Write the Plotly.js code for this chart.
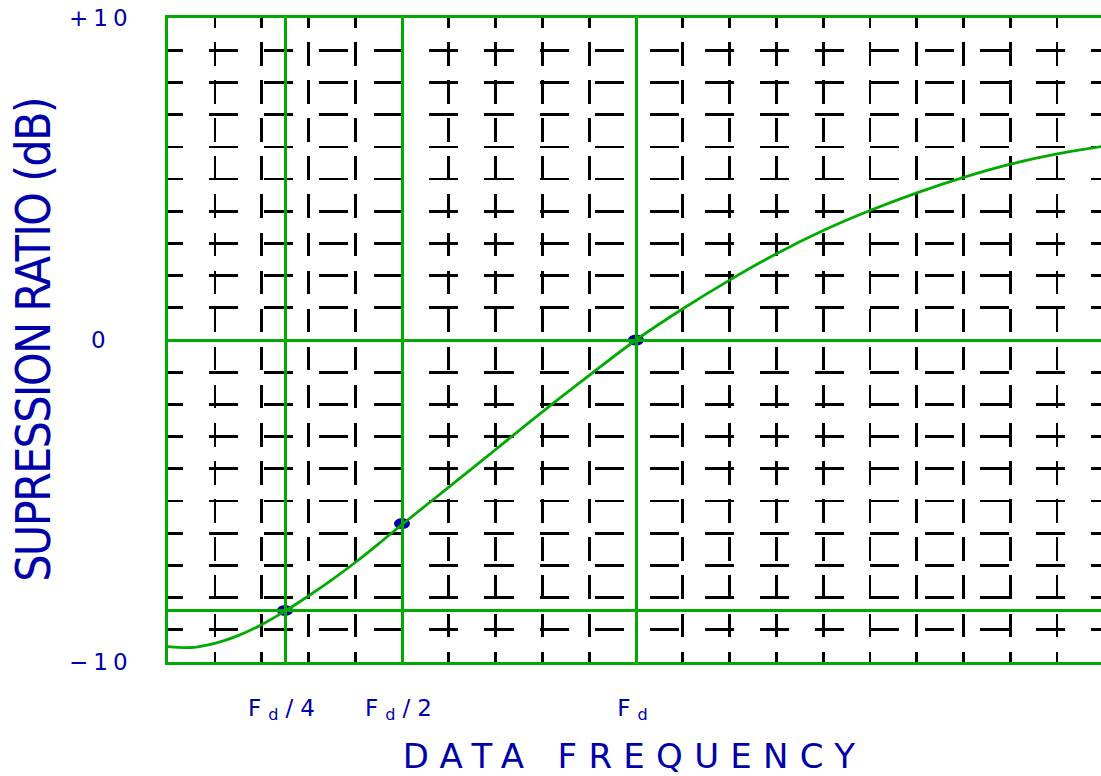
<!DOCTYPE html>
<html>
<head>
<meta charset="utf-8">
<script src="https://cdn.plot.ly/plotly-3.0.1.min.js"></script>
<style>
  html, body { margin: 0; padding: 0; background: #fff; overflow: hidden; }
  #chart { width: 1101px; height: 776px; }
  .xtick text { letter-spacing: 7px; }
  .annotation-text { letter-spacing: 5px; }
  .xtitle { letter-spacing: 11.3px; }
  .ytitle { letter-spacing: -1.8px; }
</style>
</head>
<body>
<div id="chart"></div>
<script>
// Frequency in units of the data frequency Fd, suppression ratio in dB
const freq = [0, 0.05, 0.1, 0.15, 0.2, 0.25, 0.3, 0.35, 0.4, 0.45, 0.5, 0.6, 0.7, 0.8, 0.9,
              1.0, 1.1, 1.2, 1.3, 1.4, 1.5, 1.6, 1.7, 1.8, 1.9, 2.0];
const ratioDb = [-9.52, -9.55, -9.42, -9.18, -8.84, -8.42, -7.95, -7.45, -6.91, -6.33, -5.73,
                 -4.57, -3.4, -2.23, -1.1, 0, 0.97, 1.86, 2.68, 3.4, 4.02, 4.57, 5.05, 5.46, 5.78, 6.02];

// Reference frequencies and their marked levels
const refFreq = [0.25, 0.5, 1.0];
const refDb = [-8.4, -5.7, 0];
const refLabels = ['F<sub>d</sub>/4', 'F<sub>d</sub>/2', 'F<sub>d</sub>'];

// Level labels on the left
const levelVals = [10, 0, -10];
const levelLabels = ['+10', '0', '\u221210'];

const GREEN = '#00AA00';
const BLUE = '#0000AA';

// dash list: a short leading dash and gap, then a repeating dash/gap pair
function dashList(firstDash, firstGap, dash, gap, total) {
  const parts = [firstDash, firstGap];
  let len = firstDash + firstGap;
  while (len < total) { parts.push(dash, gap); len += dash + gap; }
  return parts.map(v => v.toFixed(1) + 'px').join(',');
}
const vDash = dashList(9.5, 14.5, 23.5, 14.6, 700);
const hDash = dashList(15, 26, 29, 26.1, 1000);

const traces = [{
  type: 'scatter',
  mode: 'lines',
  x: freq,
  y: ratioDb,
  line: { color: GREEN, width: 2.8, shape: 'spline', smoothing: 1 },
  hoverinfo: 'skip'
}];

const dots = refFreq.map((f, i) => ({
  type: 'circle', layer: 'below',
  xref: 'x', yref: 'y',
  xsizemode: 'pixel', ysizemode: 'pixel',
  xanchor: f, yanchor: refDb[i],
  x0: -8, x1: 8, y0: -5.5, y1: 5.5,
  fillcolor: BLUE, line: { width: 0 }
}));

const levelNotes = levelVals.map((v, i) => ({
  xref: 'paper', yref: 'y', x: 0, y: v, xshift: -67,
  xanchor: 'center', yanchor: 'middle',
  text: levelLabels[i], showarrow: false,
  font: { family: 'DejaVu Sans', size: 23, color: BLUE }
}));

const layout = {
  width: 1101, height: 776,
  margin: { l: 168, r: 0, t: 18, b: 114 },
  paper_bgcolor: '#ffffff',
  plot_bgcolor: 'rgba(0,0,0,0)',
  showlegend: false,
  xaxis: {
    range: [0, 933 / 468],
    tickmode: 'array', tickvals: refFreq, ticktext: refLabels,
    ticks: '', ticklabelstandoff: 23,
    tickfont: { family: 'DejaVu Sans', size: 23, color: BLUE },
    showgrid: true, gridcolor: GREEN, gridwidth: 3,
    zeroline: false,
    showline: true, mirror: true, linecolor: GREEN, linewidth: 3,
    minor: { dtick: 0.1, tick0: 0, showgrid: true, gridcolor: '#000000', gridwidth: 2.6, griddash: vDash, ticks: '' },
    title: { text: 'DATA FREQUENCY', standoff: 30,
             font: { family: 'DejaVu Sans', size: 34, color: BLUE } }
  },
  yaxis: {
    range: [-10, 10],
    tickmode: 'array', tickvals: [0, refDb[0]],
    showticklabels: false, ticks: '',
    showgrid: true, gridcolor: GREEN, gridwidth: 3,
    zeroline: false,
    showline: true, mirror: false, linecolor: GREEN, linewidth: 3,
    minor: { dtick: 1, tick0: 0, showgrid: true, gridcolor: '#000000', gridwidth: 2.6, griddash: hDash, ticks: '' },
    title: { text: 'SUPRESSION RATIO (dB)', standoff: 100,
             font: { family: 'Liberation Sans Narrow, DejaVu Sans Condensed, DejaVu Sans', size: 48, color: BLUE } }
  },
  shapes: dots,
  annotations: levelNotes
};

Plotly.newPlot('chart', traces, layout, { staticPlot: true, displayModeBar: false });
</script>
</body>
</html>
